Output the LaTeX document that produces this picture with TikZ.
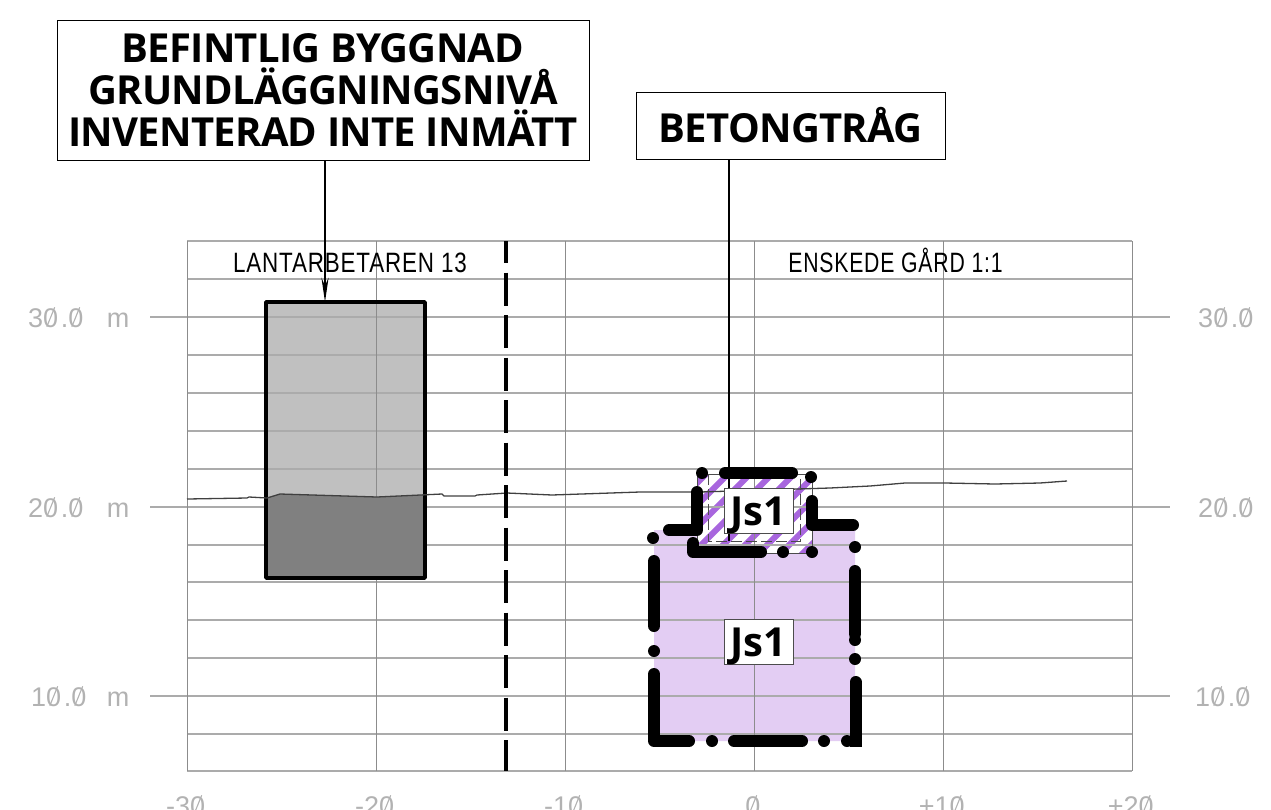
\documentclass[tikz,border=0pt]{standalone}
\usepackage{fontspec}
\usepackage{tikz}
\usetikzlibrary{arrows.meta}
\setmainfont{Open Sans}
\newfontfamily\titlefont[LetterSpace=-1.8]{Open Sans}
\newfontfamily\isofont[FakeStretch=0.8,LetterSpace=3]{Liberation Sans}
\newfontfamily\axfont[FakeStretch=1.0]{Liberation Sans}
\definecolor{lgray}{RGB}{192, 192, 192}
\definecolor{dgray}{RGB}{128, 128, 128}
\definecolor{axgray}{RGB}{178, 178, 178}
\definecolor{lpurple}{RGB}{227, 205, 243}
\definecolor{hpurple}{RGB}{168, 102, 222}
\newcommand{\slz}{\ooalign{0\cr\hfil\raisebox{-0.5pt}{\rotatebox[origin=c]{-22}{\rule{1.1pt}{21pt}}}\hfil\cr}\kern2.5pt}
\newcommand{\zonetext}{\raisebox{-14.5pt}[0pt][0pt]{Js1}}
\tikzset{
	callout/.style = {draw, fill = white, line width = 1pt, inner sep = 0pt, align = center, font = \fontsize{40}{42}\selectfont\titlefont\bfseries},
	zonelabel/.style = {draw = black!70, fill = white, line width = 1pt, inner sep = 0pt, minimum width = 69pt, minimum height = 45pt, font = \fontsize{40}{40}\selectfont\bfseries},
	axlabel/.style = {text = axgray, inner sep = 0pt, anchor = base, font = \fontsize{27}{27}\selectfont\axfont},
	lotlabel/.style = {inner sep = 0pt, anchor = base, font = \fontsize{28}{28}\selectfont\isofont},
	gridh/.style = {draw = black!33, line width = 1.5pt},
	gridv/.style = {draw = black!45, line width = 1pt},
	zoneline/.style = {line width = 12pt, line cap = round, line join = round},
	leader/.style = {line width = 2.7pt, -{Stealth[length = 24pt, width = 7pt]}}
}

\begin{document}
\begin{tikzpicture}[x = 1pt, y = -1pt]
	\useasboundingbox (0,0) rectangle (1271,809);
	% fills below the grid
	\fill[lgray] (266,302) rectangle (425,578);
	\fill[lpurple] (654,530) -- (697,530) -- (697,553) -- (812,553) -- (812,525) -- (855,525) -- (855,741) -- (654,741) -- cycle;
	\begin{scope}
		\clip (697,474) rectangle (812,553);
		\foreach \x in {620,642,...,920}
			\draw[hpurple, line width = 6pt] (\x,560) -- (\x+100,460);
	\end{scope}
	% grid
	\foreach \y in {279,355,393,431,469,545,582,620,658,734}
		\draw[gridh] (187,\y) -- (1132,\y);
	\foreach \y in {317,507,696}
		\draw[gridh] (150,\y) -- (1170,\y);
	\draw[gridh] (187,241) -- (1132,241);
	\draw[gridh] (187,771) -- (1132,771);
	\foreach \x in {187,376,565,754,943,1132}
		\draw[gridv] (\x,241) -- (\x,771);
	% building
	\fill[dgray] (266,578) -- (266,498) -- (280,494) -- (377,497) -- (425,495) -- (425,578) -- cycle;
	\draw[line width = 3.5pt, line join = round] (266,302) rectangle (425,578);
	% ground line
	\draw[black!75, line width = 1.3pt] (187,499) -- (247,498) -- (249,497) -- (267,498) -- (280,494) -- (377,497) -- (442,494) -- (444,496) -- (475,496) -- (477,495) -- (507,493) -- (552,495) -- (640,492) -- (700,492) -- (830,488) -- (870,486) -- (905,483) -- (945,483) -- (995,484) -- (1040,483) -- (1067,481);
	% property line
	\draw[line width = 3.5pt, dash pattern = on 33pt off 9.5pt, dash phase = 11pt] (506,241) -- (506,771);
	% trough
	\draw[black!70, line width = 0.7pt] (697,474) rectangle (812,553);
	\draw[black!70, line width = 0.9pt, dash pattern = on 11pt off 4pt] (708,474) rectangle (800,541);
	% zone outline
	\draw[zoneline] (654,561) -- (654,626);
	\draw[zoneline] (654,674) -- (654,741) -- (689,741);
	\draw[zoneline] (734,741) -- (802,741);
	\draw[zoneline] (855,571) -- (855,634);
	\draw[zoneline] (669,530) -- (697,530) -- (697,492);
	\draw[zoneline] (693,543) -- (693,552) -- (761,552);
	\draw[zoneline] (812,501) -- (812,525) -- (853,525);
	\draw[zoneline] (725,473) -- (792,473);
	\draw[zoneline, line cap = butt] (855.5,682) -- (855.5,747);
	\draw[zoneline] (855.5,682) -- (855.5,690);
	\foreach \x/\y in {712/741,824/741,847/741,855/659,855/640,654/651,855/547,653/538,783/552,812/552,702/473,811/477}
		\fill (\x,\y) circle (6);
	% callouts
	\node (byggnad) at (323,90) [callout, minimum width = 532pt, minimum height = 140pt] {BEFINTLIG BYGGNAD\\GRUNDLÄGGNINGSNIVÅ\\INVENTERAD INTE INMÄTT};
	\node (trag) at (790.5,125.5) [callout, minimum width = 309pt, minimum height = 67pt] {BETONGTRÅG};
	\coordinate (byggnadtip) at (325,302);
	\coordinate (tragtip) at (729,541);
	\draw[leader] (byggnad.south -| byggnadtip) -- (byggnadtip);
	\draw[line width = 2.7pt] (trag.south -| tragtip) -- (tragtip);
	% zone labels
	\node (zoneupper) at (758.5,510.5) [zonelabel] {\zonetext};
	\node (zonelower) at (758.5,642) [zonelabel] {\zonetext};
	% lot labels
	\node (lotleft) at (350,272) [lotlabel] {LANTARBETAREN 13};
	\node (lotright) at (895.5,272) [lotlabel] {\scalebox{0.947}[1]{ENSKEDE GÅRD 1:1}};
	% level labels
	\node (lvlla) at (57,327) [axlabel] {3\slz.\slz};
	\node (lvllb) at (57,517) [axlabel] {2\slz.\slz};
	\node (lvllc) at (60,706) [axlabel] {1\slz.\slz};
	\node (unita) at (118,327) [axlabel] {m};
	\node (unitb) at (118,517) [axlabel] {m};
	\node (unitc) at (118,706) [axlabel] {m};
	\node (lvlra) at (1227,327) [axlabel] {3\slz.\slz};
	\node (lvlrb) at (1227,517) [axlabel] {2\slz.\slz};
	\node (lvlrc) at (1224,706) [axlabel] {1\slz.\slz};
	% distance labels
	\node (dista) at (187,815) [axlabel] {-3\slz};
	\node (distb) at (376,815) [axlabel] {-2\slz};
	\node (distc) at (565,815) [axlabel] {-1\slz};
	\node (distd) at (754,815) [axlabel] {\slz};
	\node (diste) at (943,815) [axlabel] {+1\slz};
	\node (distf) at (1132,815) [axlabel] {+2\slz};
\end{tikzpicture}
\end{document}
